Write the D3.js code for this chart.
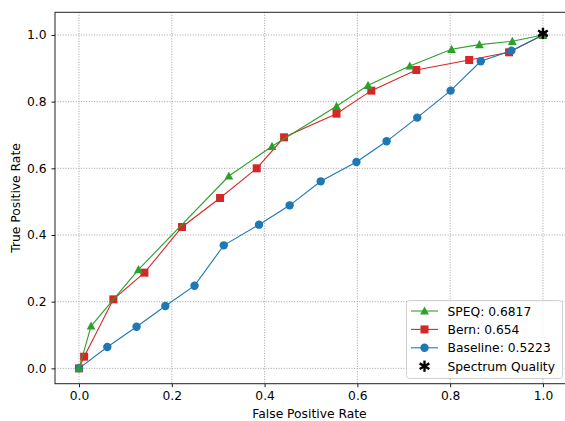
<!DOCTYPE html>
<html>
<head>
<meta charset="utf-8">
<script src="https://cdn.jsdelivr.net/npm/d3@7/dist/d3.min.js"></script>
<style>
  body { margin: 0; background: #fff; }
  svg text { font-family: "DejaVu Sans", sans-serif; fill: #000; }
</style>
</head>
<body>
<svg id="chart" width="565" height="421"></svg>
<script>
// ROC points
var speqFpr = [0, 0.026, 0.128, 0.323, 0.416, 0.555, 0.623, 0.713, 0.803, 0.863, 0.934, 1.0];
var speqTpr = [0, 0.127, 0.296, 0.577, 0.666, 0.786, 0.849, 0.907, 0.957, 0.971, 0.981, 1.0];
var bernFpr = [0, 0.011, 0.074, 0.141, 0.222, 0.304, 0.383, 0.442, 0.555, 0.630, 0.727, 0.841, 0.927, 1.0];
var bernTpr = [0, 0.035, 0.207, 0.287, 0.424, 0.511, 0.600, 0.693, 0.764, 0.833, 0.895, 0.925, 0.948, 1.0];
var baseFpr = [0, 0.061, 0.124, 0.186, 0.249, 0.312, 0.388, 0.454, 0.521, 0.598, 0.663, 0.729, 0.801, 0.866, 0.932, 1.0];
var baseTpr = [0, 0.064, 0.125, 0.187, 0.248, 0.369, 0.431, 0.489, 0.561, 0.619, 0.681, 0.752, 0.833, 0.921, 0.953, 1.0];
var qualityPoint = [1.0, 1.005];

var legendLabels = ["SPEQ: 0.6817", "Bern: 0.654", "Baseline: 0.5223", "Spectrum Quality"];
var tickValues = [0, 0.2, 0.4, 0.6, 0.8, 1.0];

var svg = d3.select("#chart");
var pLeft = 55, pRight = 566, pTop = 12.3, pBottom = 383.7;
var fontSize = "12.3px";

var x = d3.scaleLinear().domain([-0.0518, 1.0497]).range([pLeft, pRight]);
var y = d3.scaleLinear().domain([-0.046, 1.068]).range([pBottom, pTop]);

// grid
var grid = svg.append("g");
tickValues.forEach(function(t) {
  grid.append("line").attr("x1", x(t)).attr("x2", x(t)).attr("y1", pTop).attr("y2", pBottom)
    .attr("stroke", "#999").attr("stroke-width", 0.9).attr("stroke-dasharray", "1,1.6");
  grid.append("line").attr("x1", pLeft).attr("x2", pRight).attr("y1", y(t)).attr("y2", y(t))
    .attr("stroke", "#999").attr("stroke-width", 0.9).attr("stroke-dasharray", "1,1.6");
});

// axes
var fmt = d3.format(".1f");
var xAxis = svg.append("g").attr("transform", "translate(0," + pBottom + ")")
  .call(d3.axisBottom(x).tickValues(tickValues).tickFormat(fmt).tickSize(3.5).tickPadding(4));
var yAxis = svg.append("g").attr("transform", "translate(" + pLeft + ",0)")
  .call(d3.axisLeft(y).tickValues(tickValues).tickFormat(fmt).tickSize(3.5).tickPadding(5));
[xAxis, yAxis].forEach(function(a) {
  a.select(".domain").remove();
  a.selectAll("text").style("font-size", fontSize).style("font-family", "DejaVu Sans");
  a.selectAll("line").attr("stroke", "#000").attr("stroke-width", 0.9);
});

svg.append("rect").attr("x", pLeft).attr("y", pTop)
  .attr("width", pRight - pLeft).attr("height", pBottom - pTop)
  .attr("fill", "none").attr("stroke", "#222").attr("stroke-width", 1);

svg.append("text").attr("x", (pLeft + pRight) / 2 - 1).attr("y", 418)
  .attr("text-anchor", "middle").style("font-size", fontSize).text("False Positive Rate");
svg.append("text").attr("transform", "translate(20," + (pTop + pBottom) / 2 + ") rotate(-90)")
  .attr("text-anchor", "middle").style("font-size", fontSize).text("True Positive Rate");

// markers
function marker(g, kind, color) {
  if (kind === "triangle") {
    g.append("path").attr("d", "M0,-4.6L-4.4,3.6L4.4,3.6Z").attr("fill", color);
  } else if (kind === "square") {
    g.append("rect").attr("x", -4).attr("y", -4).attr("width", 8).attr("height", 8).attr("fill", color);
  } else if (kind === "circle") {
    g.append("circle").attr("r", 4.2).attr("fill", color);
  } else {
    [90, 30, 150].forEach(function(a) {
      var r = a * Math.PI / 180, L = 5.6;
      g.append("line").attr("x1", -L * Math.cos(r)).attr("y1", -L * Math.sin(r))
        .attr("x2", L * Math.cos(r)).attr("y2", L * Math.sin(r))
        .attr("stroke", color).attr("stroke-width", 2.4);
    });
  }
}

var line = d3.line().x(function(d) { return x(d[0]); }).y(function(d) { return y(d[1]); });

function series(fpr, tpr, color, kind) {
  var pts = d3.zip(fpr, tpr);
  var g = svg.append("g");
  g.append("path").datum(pts).attr("d", line).attr("fill", "none")
    .attr("stroke", color).attr("stroke-width", 1.1);
  pts.forEach(function(p) {
    marker(g.append("g").attr("transform", "translate(" + x(p[0]) + "," + y(p[1]) + ")"), kind, color);
  });
}

series(bernFpr, bernTpr, "#d62728", "square");
series(baseFpr, baseTpr, "#1f77b4", "circle");
series(speqFpr, speqTpr, "#2ca02c", "triangle");
marker(svg.append("g").attr("transform", "translate(" + x(qualityPoint[0]) + "," + y(qualityPoint[1]) + ")"), "star", "#000");

// legend
var lg = svg.append("g");
lg.append("rect").attr("x", 406.5).attr("y", 300.5).attr("width", 156).attr("height", 78).attr("rx", 3)
  .attr("fill", "#fff").attr("fill-opacity", 0.8).attr("stroke", "#d0d0d0").attr("stroke-width", 1);
var legColors = ["#2ca02c", "#d62728", "#1f77b4", "#000"];
var legKinds = ["triangle", "square", "circle", "star"];
legendLabels.forEach(function(label, i) {
  var ry = 311 + i * 18.4;
  if (i < 3) {
    lg.append("line").attr("x1", 411).attr("x2", 438).attr("y1", ry).attr("y2", ry)
      .attr("stroke", legColors[i]).attr("stroke-width", 1.1);
  }
  marker(lg.append("g").attr("transform", "translate(424.5," + ry + ")"), legKinds[i], legColors[i]);
  lg.append("text").attr("x", 447.5).attr("y", ry + 4.5).style("font-size", fontSize).text(label);
});
</script>
</body>
</html>
